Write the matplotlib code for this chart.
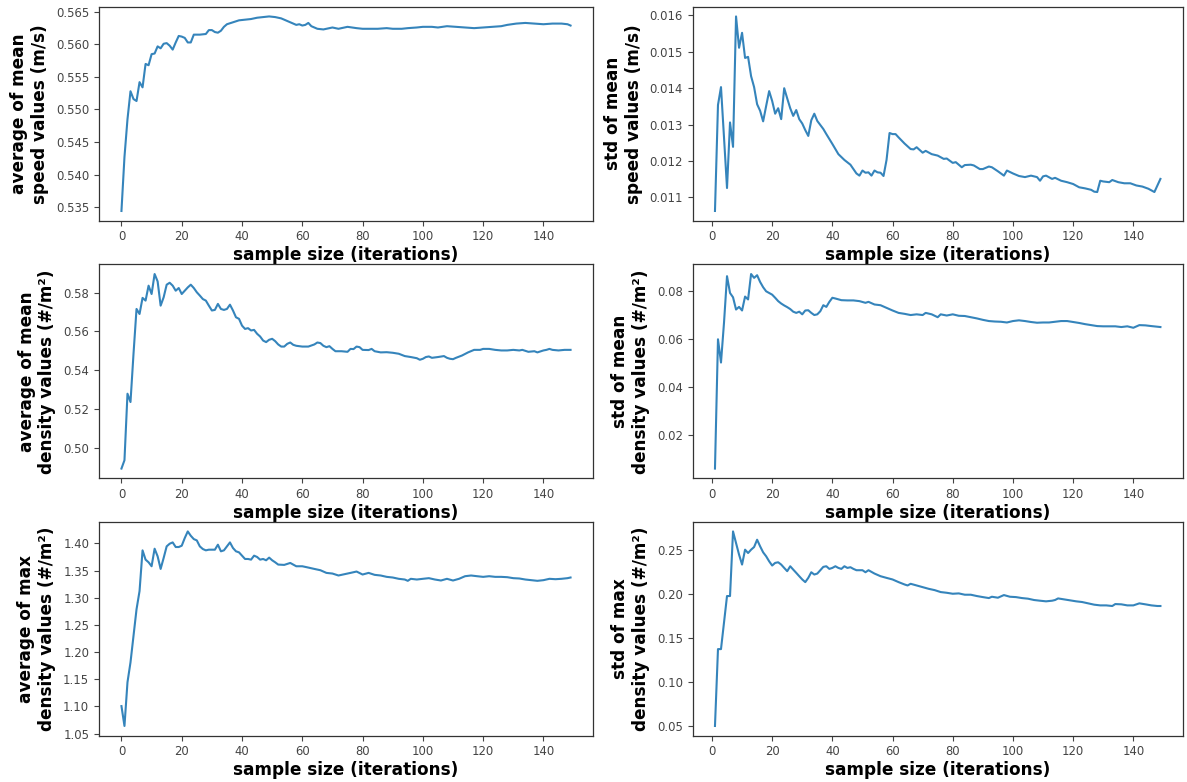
import matplotlib
matplotlib.use("Agg")
import matplotlib.pyplot as plt

# ---------------- data ----------------
# average of mean speed values (m/s)
avg_speed_x = [0, 1, 2, 3, 4, 5, 6, 7, 8, 9, 10, 11, 12, 13, 14, 15, 16, 17, 18, 19,
               20, 21, 22, 23, 24, 26, 28, 29, 30, 31, 32, 33, 34, 35, 37, 39, 41, 43,
               45, 47, 49, 51, 53, 55, 57, 58, 59, 60, 61, 62, 63, 65, 67, 70, 72, 75,
               78, 80, 83, 85, 88, 90, 93, 95, 98, 100, 103, 105, 108, 111, 114, 117,
               120, 123, 126, 128, 131, 134, 137, 140, 143, 146, 148, 149]
avg_speed_y = [0.5344, 0.5427, 0.5485, 0.5528, 0.5516, 0.5513, 0.5542, 0.5534, 0.5570,
               0.5568, 0.5585, 0.5586, 0.5597, 0.5594, 0.5601, 0.5602, 0.5598, 0.5592,
               0.5603, 0.5613, 0.5612, 0.5610, 0.5603, 0.5603, 0.5615, 0.5615, 0.5616,
               0.5622, 0.5622, 0.5619, 0.5618, 0.5621, 0.5627, 0.5631, 0.5634, 0.5637,
               0.5638, 0.5639, 0.5641, 0.5642, 0.5643, 0.5642, 0.5640, 0.5636, 0.5632,
               0.5630, 0.5631, 0.5629, 0.5630, 0.5633, 0.5628, 0.5624, 0.5623, 0.5626,
               0.5624, 0.5627, 0.5625, 0.5624, 0.5624, 0.5624, 0.5625, 0.5624, 0.5624,
               0.5625, 0.5626, 0.5627, 0.5627, 0.5626, 0.5628, 0.5627, 0.5626, 0.5625,
               0.5626, 0.5627, 0.5628, 0.5630, 0.5632, 0.5633, 0.5632, 0.5631, 0.5632,
               0.5632, 0.5631, 0.5629]

# std of mean speed values (m/s)
std_speed_x = [1, 2, 3, 4, 5, 6, 7, 8, 9, 10, 11, 12, 13, 14, 15, 16, 17, 18, 19, 20,
               21, 22, 23, 24, 25, 26, 27, 28, 29, 30, 31, 32, 33, 34, 35, 36, 37, 38,
               40, 42, 44, 46, 48, 49, 50, 51, 52, 53, 54, 55, 56, 57, 58, 59, 60, 61,
               62, 64, 66, 67, 68, 70, 71, 73, 75, 77, 78, 80, 81, 83, 84, 86, 87, 89,
               90, 92, 93, 95, 97, 98, 100, 102, 104, 106, 108, 109, 110, 111, 113, 114,
               116, 118, 120, 122, 124, 126, 127, 128, 129, 130, 132, 133, 135, 137, 139,
               141, 143, 145, 147, 149]
std_speed_y = [0.01063, 0.01354, 0.01403, 0.01265, 0.01126, 0.01306, 0.01239, 0.01597,
               0.01511, 0.01552, 0.01483, 0.01486, 0.01433, 0.01403, 0.01356, 0.01338,
               0.01309, 0.01351, 0.01392, 0.01365, 0.01330, 0.01345, 0.01315, 0.01400,
               0.01372, 0.01345, 0.01324, 0.01340, 0.01315, 0.01303, 0.01285, 0.01269,
               0.01312, 0.01330, 0.01310, 0.01299, 0.01288, 0.01274, 0.01247, 0.01219,
               0.01203, 0.01190, 0.01166, 0.01160, 0.01174, 0.01168, 0.01169, 0.01160,
               0.01174, 0.01169, 0.01168, 0.01159, 0.01203, 0.01277, 0.01274, 0.01274,
               0.01265, 0.01248, 0.01233, 0.01232, 0.01238, 0.01223, 0.01228, 0.01219,
               0.01215, 0.01206, 0.01207, 0.01195, 0.01197, 0.01183, 0.01189, 0.01190,
               0.01188, 0.01178, 0.01178, 0.01185, 0.01183, 0.01172, 0.01160, 0.01174,
               0.01166, 0.01159, 0.01156, 0.01160, 0.01156, 0.01146, 0.01158, 0.01160,
               0.01151, 0.01154, 0.01146, 0.01142, 0.01137, 0.01128, 0.01125, 0.01121,
               0.01116, 0.01115, 0.01146, 0.01144, 0.01142, 0.01148, 0.01142, 0.01139,
               0.01139, 0.01133, 0.01130, 0.01124, 0.01115, 0.01151]

# average of mean density values (#/m²)
avg_mdens_x = list(range(0, 59)) + [60, 62, 64, 65, 66, 67, 68, 69, 70, 71, 73, 75, 76,
               77, 78, 79, 80, 82, 83, 84, 86, 88, 90, 92, 94, 96, 98, 99, 100, 101, 102,
               103, 105, 107, 108, 109, 110, 111, 113, 115, 117, 119, 120, 122, 124, 126,
               128, 130, 132, 133, 135, 137, 138, 140, 141, 142, 143, 145, 147, 149]
avg_mdens_y = [0.4893, 0.4936, 0.5279, 0.5236, 0.5485, 0.5716, 0.5690, 0.5773, 0.5759,
               0.5836, 0.5793, 0.5896, 0.5858, 0.5733, 0.5776, 0.5841, 0.5851, 0.5836,
               0.5810, 0.5824, 0.5793, 0.5810, 0.5827, 0.5841, 0.5824, 0.5802, 0.5785,
               0.5767, 0.5759, 0.5733, 0.5708, 0.5711, 0.5742, 0.5716, 0.5711, 0.5716,
               0.5738, 0.5708, 0.5673, 0.5665, 0.5630, 0.5613, 0.5617, 0.5605, 0.5608,
               0.5588, 0.5574, 0.5553, 0.5545, 0.5557, 0.5562, 0.5550, 0.5533, 0.5522,
               0.5522, 0.5536, 0.5543, 0.5531, 0.5526,
               0.5522, 0.5522, 0.5533, 0.5543, 0.5540, 0.5526, 0.5519, 0.5524, 0.5510,
               0.5498, 0.5498, 0.5495, 0.5510, 0.5509, 0.5522, 0.5519, 0.5505, 0.5504,
               0.5510, 0.5498, 0.5492, 0.5493, 0.5490, 0.5485, 0.5473, 0.5468, 0.5462,
               0.5454, 0.5459, 0.5468, 0.5471, 0.5464, 0.5468, 0.5473, 0.5464, 0.5459,
               0.5457, 0.5464, 0.5476, 0.5492, 0.5505, 0.5505, 0.5510, 0.5510, 0.5505,
               0.5502, 0.5502, 0.5505, 0.5502, 0.5505, 0.5495, 0.5498, 0.5492, 0.5502,
               0.5505, 0.5510, 0.5505, 0.5502, 0.5505, 0.5505]

# std of mean density values (#/m²)
std_mdens_x = list(range(1, 42)) + [43, 45, 47, 49, 51, 52, 54, 56, 58, 60, 62, 64, 66,
               68, 70, 71, 73, 75, 76, 78, 80, 82, 84, 86, 88, 90, 92, 94, 96, 98, 100,
               102, 104, 106, 108, 110, 112, 114, 116, 118, 120, 122, 124, 126, 128, 130,
               132, 134, 136, 138, 139, 140, 142, 144, 146, 149]
std_mdens_y = [0.0058, 0.0597, 0.0500, 0.0666, 0.0860, 0.0790, 0.0772, 0.0721, 0.0732,
               0.0717, 0.0775, 0.0763, 0.0869, 0.0853, 0.0864, 0.0836, 0.0814, 0.0797,
               0.0790, 0.0783, 0.0770, 0.0756, 0.0746, 0.0738, 0.0731, 0.0723, 0.0712,
               0.0707, 0.0712, 0.0701, 0.0717, 0.0718, 0.0707, 0.0698, 0.0701, 0.0714,
               0.0739, 0.0732, 0.0753, 0.0770, 0.0767,
               0.0760, 0.0759, 0.0759, 0.0756, 0.0749, 0.0753, 0.0742, 0.0739, 0.0728,
               0.0717, 0.0707, 0.0703, 0.0698, 0.0701, 0.0698, 0.0707, 0.0701, 0.0689,
               0.0701, 0.0696, 0.0701, 0.0695, 0.0694, 0.0689, 0.0684, 0.0678, 0.0673,
               0.0671, 0.0670, 0.0667, 0.0673, 0.0676, 0.0673, 0.0669, 0.0666, 0.0667,
               0.0667, 0.0670, 0.0673, 0.0673, 0.0669, 0.0665, 0.0660, 0.0656, 0.0652,
               0.0651, 0.0651, 0.0651, 0.0648, 0.0651, 0.0648, 0.0645, 0.0656, 0.0655,
               0.0652, 0.0648]

# average of max density values (#/m²)
avg_xdens_x = list(range(0, 53)) + [54, 56, 58, 60, 62, 64, 66, 68, 70, 72, 74, 76, 78,
               80, 82, 84, 86, 88, 90, 92, 94, 95, 96, 98, 100, 102, 104, 106, 108, 110,
               112, 114, 116, 118, 120, 122, 124, 126, 128, 130, 132, 134, 136, 138, 140,
               142, 144, 146, 148, 149]
avg_xdens_y = [1.1006, 1.0640, 1.1445, 1.1811, 1.2299, 1.2787, 1.3122, 1.3872, 1.3701,
               1.3652, 1.3579, 1.3902, 1.3762, 1.3530, 1.3732, 1.3945, 1.3994, 1.4018,
               1.3933, 1.3933, 1.3957, 1.4098, 1.4220, 1.4140, 1.4079, 1.4055, 1.3945,
               1.3896, 1.3872, 1.3884, 1.3884, 1.3884, 1.3976, 1.3854, 1.3872, 1.3945,
               1.4018, 1.3915, 1.3854, 1.3835, 1.3774, 1.3713, 1.3713, 1.3701, 1.3774,
               1.3750, 1.3701, 1.3713, 1.3689, 1.3738, 1.3689, 1.3652, 1.3610,
               1.3604, 1.3640, 1.3579, 1.3579, 1.3555, 1.3530, 1.3506, 1.3457, 1.3445,
               1.3409, 1.3433, 1.3457, 1.3482, 1.3427, 1.3457, 1.3421, 1.3409, 1.3384,
               1.3372, 1.3348, 1.3335, 1.3311, 1.3348, 1.3335, 1.3348, 1.3360, 1.3335,
               1.3317, 1.3348, 1.3317, 1.3348, 1.3396, 1.3409, 1.3396, 1.3384, 1.3396,
               1.3384, 1.3384, 1.3378, 1.3360, 1.3354, 1.3335, 1.3323, 1.3311, 1.3323,
               1.3348, 1.3341, 1.3348, 1.3360, 1.3372]

# std of max density values (#/m²)
std_xdens_x = list(range(1, 48)) + [48, 50, 51, 52, 54, 56, 58, 60, 62, 64, 65, 66, 68,
               70, 72, 74, 76, 78, 80, 82, 84, 86, 88, 90, 92, 93, 95, 97, 99, 101, 103,
               105, 107, 109, 111, 113, 114, 115, 117, 119, 121, 123, 125, 127, 129, 131,
               133, 134, 136, 138, 140, 142, 144, 146, 148, 149]
std_xdens_y = [0.0500, 0.1372, 0.1372, 0.1673, 0.1974, 0.1974, 0.2707, 0.2575, 0.2444,
               0.2331, 0.2500, 0.2462, 0.2500, 0.2530, 0.2613, 0.2538, 0.2470, 0.2425,
               0.2368, 0.2320, 0.2350, 0.2357, 0.2331, 0.2293, 0.2256, 0.2312, 0.2274,
               0.2237, 0.2199, 0.2162, 0.2132, 0.2180, 0.2244, 0.2218, 0.2229, 0.2267,
               0.2305, 0.2312, 0.2282, 0.2293, 0.2312, 0.2293, 0.2282, 0.2312, 0.2293,
               0.2301, 0.2282,
               0.2267, 0.2267, 0.2244, 0.2267, 0.2229, 0.2199, 0.2180, 0.2162, 0.2132,
               0.2105, 0.2094, 0.2113, 0.2094, 0.2075, 0.2056, 0.2041, 0.2019, 0.2011,
               0.2000, 0.2004, 0.1989, 0.1989, 0.1974, 0.1962, 0.1951, 0.1966, 0.1955,
               0.1985, 0.1966, 0.1962, 0.1951, 0.1944, 0.1929, 0.1921, 0.1914, 0.1921,
               0.1929, 0.1947, 0.1936, 0.1925, 0.1914, 0.1906, 0.1891, 0.1876, 0.1868,
               0.1868, 0.1861, 0.1883, 0.1880, 0.1868, 0.1868, 0.1891, 0.1880, 0.1868,
               0.1861, 0.1861]

y_labels = ["average of mean\nspeed values (m/s)",
            "std of mean\nspeed values (m/s)",
            "average of mean\ndensity values (#/m\u00b2)",
            "std of mean\ndensity values (#/m\u00b2)",
            "average of max\ndensity values (#/m\u00b2)",
            "std of max\ndensity values (#/m\u00b2)"]
x_label = "sample size (iterations)"
x_ticks = [0, 20, 40, 60, 80, 100, 120, 140]
std_mdens_ticks = [0.02, 0.04, 0.06, 0.08]

series = [(avg_speed_x, avg_speed_y), (std_speed_x, std_speed_y),
          (avg_mdens_x, avg_mdens_y), (std_mdens_x, std_mdens_y),
          (avg_xdens_x, avg_xdens_y), (std_xdens_x, std_xdens_y)]

# ---------------- figure ----------------
W, H = 1187, 782
fig = plt.figure(figsize=(W / 100, H / 100), dpi=100)

col_left = [99 / W, 692.7 / W]
col_w = [494 / W, 490 / W]
row_bottom = [(H - 220.7) / H, (H - 478.3) / H, (H - 735.7) / H]
row_h = 214 / H

tick_color = "#444444"
for i, ((xs, ys), ylab) in enumerate(zip(series, y_labels)):
    r, c = divmod(i, 2)
    ax = fig.add_axes([col_left[c], row_bottom[r], col_w[c], row_h])
    ax.plot(xs, ys, color="#1f77b4", linewidth=1.5, alpha=0.9)
    ax.set_xticks(x_ticks)
    if i == 3:
        ax.set_yticks(std_mdens_ticks)
    ax.tick_params(labelsize=8.4, colors=tick_color, length=3.5, width=0.8)
    for sp in ax.spines.values():
        sp.set_color("#333333")
        sp.set_linewidth(0.9)
    ax.set_xlabel(x_label, fontsize=12.2, fontweight="bold", labelpad=2)
    ax.set_ylabel(ylab, fontsize=12.2, fontweight="bold", labelpad=5)

fig.savefig("out.png", dpi=100)
